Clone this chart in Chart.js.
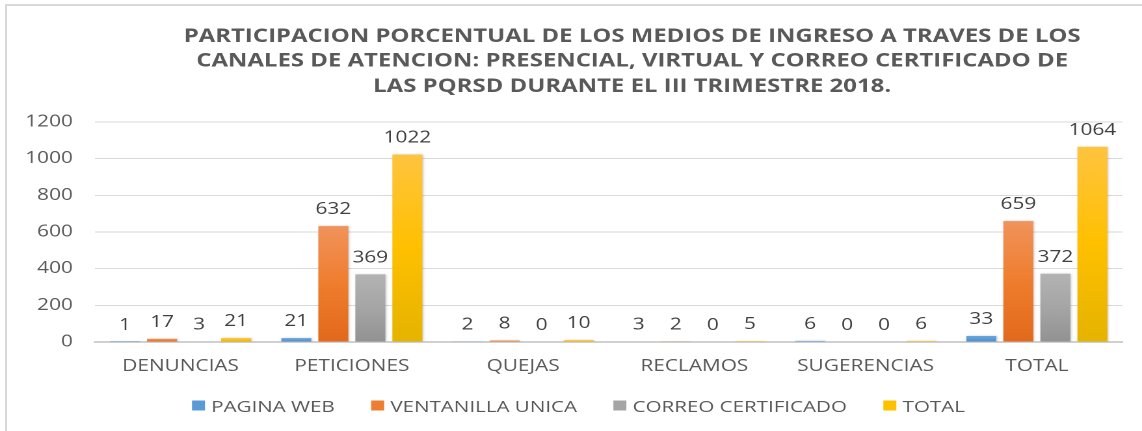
<!DOCTYPE html>
<html>
<head>
<meta charset="utf-8">
<script src="https://cdn.jsdelivr.net/npm/chart.js@4.4.1/dist/chart.umd.min.js"></script>
<style>
  html, body { margin: 0; padding: 0; background: #fff; overflow: hidden; }
  #frame { position: absolute; left: 5px; top: 4px; width: 1137px; height: 427px;
           border-top: 2px solid #d9d9d9; border-left: 2px solid #d9d9d9; }
  #stretch { position: absolute; left: 0; top: 0; width: 878px; height: 431px;
             transform: scaleX(1.3007); transform-origin: 0 0; }
</style>
</head>
<body>
<div id="stretch"><canvas id="c" width="878" height="431"></canvas></div>
<div id="frame"></div>
<script>
const categories = ['DENUNCIAS', 'PETICIONES', 'QUEJAS', 'RECLAMOS', 'SUGERENCIAS', 'TOTAL'];
const seriesNames = ['PAGINA WEB', 'VENTANILLA UNICA', 'CORREO CERTIFICADO', 'TOTAL'];
const paginaWeb = [1, 21, 2, 3, 6, 33];
const ventanillaUnica = [17, 632, 8, 2, 0, 659];
const correoCertificado = [3, 369, 0, 0, 0, 372];
const totalSerie = [21, 1022, 10, 5, 6, 1064];
const yTicks = [0, 200, 400, 600, 800, 1000, 1200];
const titleLines = [
  'PARTICIPACION PORCENTUAL DE LOS MEDIOS DE INGRESO A TRAVES DE LOS',
  'CANALES DE ATENCION: PRESENCIAL, VIRTUAL Y CORREO CERTIFICADO DE',
  'LAS PQRSD DURANTE EL III TRIMESTRE 2018.'
];

const palettes = [
  ['#6aa7dd', '#5b9bd5', '#4a89c8'],
  ['#f1935b', '#ef7d2e', '#e2691b'],
  ['#b3b3b3', '#a5a5a5', '#929292'],
  ['#ffc43f', '#ffc000', '#e5b300']
];
const legendColors = ['#5b9bd5', '#ed7d31', '#a5a5a5', '#ffc000'];

function gradFor(idx) {
  return function (ctx) {
    const chart = ctx.chart;
    const area = chart.chartArea;
    if (!area || ctx.type !== 'data') return legendColors[idx];
    const ys = chart.scales.y;
    const top = ys.getPixelForValue(ctx.raw);
    const bot = ys.getPixelForValue(0);
    if (bot - top < 1) return palettes[idx][1];
    const g = chart.ctx.createLinearGradient(0, top, 0, bot);
    g.addColorStop(0, palettes[idx][0]);
    g.addColorStop(0.5, palettes[idx][1]);
    g.addColorStop(1, palettes[idx][2]);
    return g;
  };
}

const valueLabels = {
  id: 'valueLabels',
  afterDatasetsDraw(chart) {
    const ctx = chart.ctx;
    ctx.save();
    ctx.shadowColor = 'transparent';
    ctx.font = '16px "Open Sans"';
    ctx.fillStyle = '#404040';
    ctx.textAlign = 'center';
    ctx.textBaseline = 'alphabetic';
    chart.data.datasets.forEach((ds, i) => {
      const meta = chart.getDatasetMeta(i);
      meta.data.forEach((bar, j) => {
        ctx.fillText(String(ds.data[j]), bar.x, bar.y - 12);
      });
    });
    ctx.restore();
  }
};

const barShadow = {
  id: 'barShadow',
  beforeDatasetsDraw(chart) {
    const ctx = chart.ctx;
    ctx.save();
    ctx.shadowColor = 'rgba(0,0,0,0.22)';
    ctx.shadowBlur = 4;
    ctx.shadowOffsetX = 1.5;
    ctx.shadowOffsetY = 0;
  },
  afterDatasetsDraw(chart) {
    chart.ctx.restore();
  }
};

const chartTitle = {
  id: 'chartTitle',
  afterDraw(chart) {
    const ctx = chart.ctx;
    ctx.save();
    ctx.font = 'bold 18.4px "Open Sans"';
    ctx.fillStyle = '#595959';
    ctx.textAlign = 'center';
    ctx.textBaseline = 'middle';
    const ys = [37, 61.5, 87];
    titleLines.forEach((t, i) => ctx.fillText(t, 486, ys[i]));
    ctx.restore();
  }
};

const customLegend = {
  id: 'customLegend',
  afterDraw(chart) {
    const ctx = chart.ctx;
    ctx.save();
    ctx.font = '15.8px "Open Sans"';
    ctx.textBaseline = 'middle';
    ctx.textAlign = 'left';
    let x = 147.6;
    const yMid = 407.5;
    chart.data.datasets.forEach((ds, i) => {
      ctx.fillStyle = legendColors[i];
      ctx.fillRect(x, 400.5, 10, 10);
      ctx.fillStyle = '#595959';
      const tx = x + 14.8;
      ctx.fillText(ds.label, tx, yMid);
      x = tx + ctx.measureText(ds.label).width + 28;
    });
    ctx.restore();
  }
};

const dataSeries = [paginaWeb, ventanillaUnica, correoCertificado, totalSerie];

new Chart(document.getElementById('c'), {
  type: 'bar',
  data: {
    labels: categories,
    datasets: dataSeries.map((d, i) => ({
      label: seriesNames[i],
      data: d,
      backgroundColor: gradFor(i),
      borderWidth: 0,
      categoryPercentage: 0.865,
      barPercentage: 0.81
    }))
  },
  options: {
    responsive: false,
    animation: false,
    devicePixelRatio: 2,
    layout: { padding: { left: 0, right: 15, top: 122, bottom: 53 } },
    plugins: {
      title: { display: false },
      legend: { display: false },
      tooltip: { enabled: false }
    },
    scales: {
      x: {
        afterFit(scale) { scale.height = 36; },
        grid: { display: false, drawTicks: false },
        border: { display: true, color: '#d0d0d0', width: 2 },
        ticks: { color: '#595959', font: { family: 'Open Sans', size: 16 }, padding: 15, maxRotation: 0 }
      },
      y: {
        min: 0,
        max: 1200,
        afterFit(scale) { scale.width = 73; },
        afterBuildTicks(scale) { scale.ticks = yTicks.map(v => ({ value: v })); },
        grid: { color: '#d9d9d9', lineWidth: 1, drawTicks: false },
        border: { display: false },
        ticks: {
          color: '#595959',
          font: { family: 'Open Sans', size: 16 },
          padding: 17,
          callback: (v) => String(v)
        }
      }
    }
  },
  plugins: [barShadow, valueLabels, chartTitle, customLegend]
});
</script>
</body>
</html>
